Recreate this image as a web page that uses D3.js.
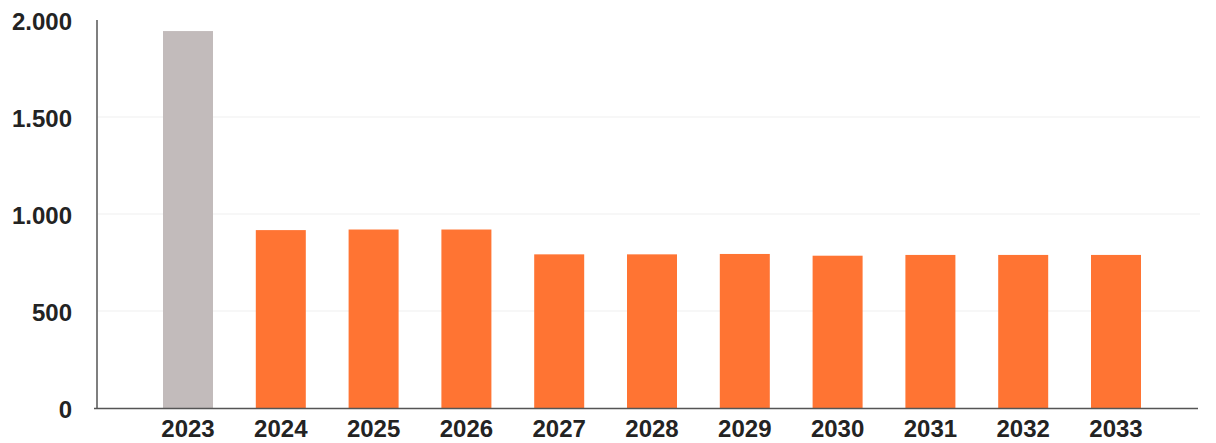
<!DOCTYPE html>
<html>
<head>
<meta charset="utf-8">
<script src="https://cdn.jsdelivr.net/npm/d3@7"></script>
<style>
  body { margin: 0; background: #fff; }
  text { font-family: "Liberation Sans", Arial, sans-serif; font-weight: bold; fill: #232323; }
</style>
</head>
<body>
<div id="container"><svg></svg></div>
<script>
let width = 1216;
let height = 443;

let years = ['2023','2024','2025','2026','2027','2028','2029','2030','2031','2032','2033'];
let values = [1943, 917, 920, 920, 792, 792, 794, 785, 789, 789, 789];
let yTicks = [0, 500, 1000, 1500, 2000];
let barColors = ['#c2bbbb', '#ff7433'];

let svg = d3.select('#container').select('svg')
    .attr('width', width)
    .attr('height', height);

let xScale = d3.scaleBand()
    .domain(years)
    .range([116.6, 1187.4])
    .paddingInner(0.4612)
    .paddingOuter(0.5);

let yScale = d3.scaleLinear()
    .domain([0, 2000])
    .range([408, 20]);

let fmt = v => d3.format(',')(v).replace(/,/g, '.');

// gridlines
svg.append('g')
    .selectAll('line')
    .data(yTicks.filter(t => t > 0 && t < 2000))
    .join('line')
    .attr('x1', 98)
    .attr('x2', 1200)
    .attr('y1', d => yScale(d))
    .attr('y2', d => yScale(d))
    .attr('stroke', '#efefef')
    .attr('stroke-width', 1);

// bars
svg.append('g')
    .selectAll('rect')
    .data(years)
    .join('rect')
    .attr('x', d => xScale(d))
    .attr('width', xScale.bandwidth())
    .attr('y', (d, i) => yScale(values[i]))
    .attr('height', (d, i) => yScale(0) - yScale(values[i]))
    .attr('fill', (d, i) => i === 0 ? barColors[0] : barColors[1]);

// y axis labels
svg.append('g')
    .selectAll('text')
    .data(yTicks)
    .join('text')
    .attr('x', 72)
    .attr('y', d => yScale(d) + 1.5)
    .attr('dy', '0.35em')
    .attr('text-anchor', 'end')
    .attr('font-size', 24)
    .text(d => fmt(d));

// x axis labels
svg.append('g')
    .selectAll('text')
    .data(years)
    .join('text')
    .attr('x', d => xScale(d) + xScale.bandwidth() / 2)
    .attr('y', 437)
    .attr('text-anchor', 'middle')
    .attr('font-size', 24)
    .text(d => d);

// axis lines
svg.append('line')
    .attr('x1', 97).attr('x2', 97)
    .attr('y1', 20).attr('y2', 408.5)
    .attr('stroke', '#555').attr('stroke-width', 1.5);
svg.append('line')
    .attr('x1', 94).attr('x2', 1198)
    .attr('y1', 408.5).attr('y2', 408.5)
    .attr('stroke', '#555').attr('stroke-width', 1.5);
</script>
</body>
</html>
